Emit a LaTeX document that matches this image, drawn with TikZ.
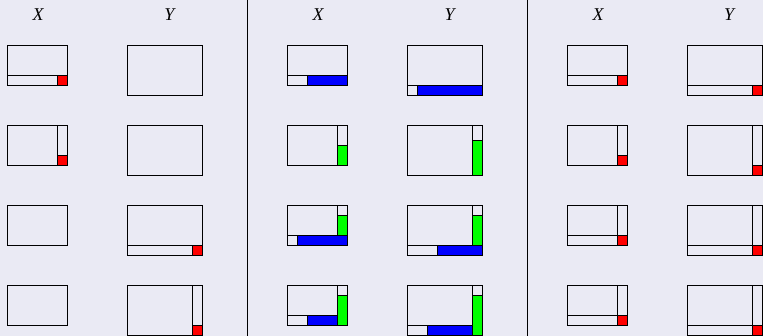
\documentclass[tikz,border=0pt]{standalone}
\usepackage{fontspec}
\newfontfamily\labfont{Liberation Serif}
\definecolor{bg}{RGB}{234,234,244}
\definecolor{pure red}{RGB}{255,0,0}
\definecolor{pure green}{RGB}{0,255,0}
\definecolor{pure blue}{RGB}{0,0,255}
\tikzset{
  frame/.style={draw=black, line width=1pt},
  redfill/.style={frame, fill=pure red},
  greenfill/.style={frame, fill=pure green},
  bluefill/.style={frame, fill=pure blue},
  sep/.style={draw=black, line width=1pt},
  lab/.style={font=\labfont\itshape\fontsize{18}{20}\selectfont, inner sep=0pt, anchor=base}
}
\begin{document}
\begin{tikzpicture}[x=1pt,y=-1pt]
\fill[bg] (0,0) rectangle (763,336);
\useasboundingbox (0,0) rectangle (763,336);
% separators
\draw[sep] (247.5,0) -- (247.5,336);
\draw[sep] (527,0) -- (527,336);
% labels
\node[lab] (l1x) at (38,20.5) {X};
\node[lab] (l1y) at (169.5,20.5) {Y};
\node[lab] (l2x) at (318,20.5) {X};
\node[lab] (l2y) at (449.5,20.5) {Y};
\node[lab] (l3x) at (598,20.5) {X};
\node[lab] (l3y) at (729,20.5) {Y};
% ---------- panel 1 ----------
\draw[frame] (7,46) rectangle (67,86);
\draw[frame] (7,76) rectangle (67,86);
\draw[redfill] (57,76) rectangle (67,86);
\draw[frame] (127,46) rectangle (202,96);
\draw[frame] (7,126) rectangle (67,166);
\draw[frame] (57,126) rectangle (67,166);
\draw[redfill] (57,156) rectangle (67,166);
\draw[frame] (127,126) rectangle (202,176);
\draw[frame] (7,206) rectangle (67,246);
\draw[frame] (127,206) rectangle (202,256);
\draw[frame] (127,246) rectangle (202,256);
\draw[redfill] (192,246) rectangle (202,256);
\draw[frame] (7,286) rectangle (67,326);
\draw[frame] (127,286) rectangle (202,335.5);
\draw[frame] (192,286) rectangle (202,335.5);
\draw[redfill] (192,326) rectangle (202,335.5);
% ---------- panel 2 ----------
\draw[frame] (287,46) rectangle (347,86);
\draw[frame] (287,76) rectangle (347,86);
\draw[bluefill] (307,76) rectangle (347,86);
\draw[frame] (407,46) rectangle (482,96);
\draw[frame] (407,86) rectangle (482,96);
\draw[bluefill] (417,86) rectangle (482,96);
\draw[frame] (287,126) rectangle (347,166);
\draw[frame] (337,126) rectangle (347,166);
\draw[greenfill] (337,146) rectangle (347,166);
\draw[frame] (407,126) rectangle (482,176);
\draw[frame] (472,126) rectangle (482,176);
\draw[greenfill] (472,141) rectangle (482,176);
\draw[frame] (287,206) rectangle (347,246);
\draw[frame] (337,206) rectangle (347,236);
\draw[greenfill] (337,216) rectangle (347,236);
\draw[frame] (287,236) rectangle (347,246);
\draw[bluefill] (297,236) rectangle (347,246);
\draw[frame] (407,206) rectangle (482,256);
\draw[frame] (472,206) rectangle (482,246);
\draw[greenfill] (472,216) rectangle (482,246);
\draw[frame] (407,246) rectangle (482,256);
\draw[bluefill] (437,246) rectangle (482,256);
\draw[frame] (287,286) rectangle (347,326);
\draw[frame] (337,286) rectangle (347,326);
\draw[greenfill] (337,296) rectangle (347,326);
\draw[frame] (287,316) rectangle (337,326);
\draw[bluefill] (307,316) rectangle (337,326);
\draw[frame] (407,286) rectangle (482,335.5);
\draw[frame] (472,286) rectangle (482,335.5);
\draw[greenfill] (472,296) rectangle (482,335.5);
\draw[frame] (407,326) rectangle (472,335.5);
\draw[bluefill] (427,326) rectangle (472,335.5);
% ---------- panel 3 ----------
\draw[frame] (567,46) rectangle (627,86);
\draw[frame] (567,76) rectangle (627,86);
\draw[redfill] (617,76) rectangle (627,86);
\draw[frame] (687,46) rectangle (762.5,96);
\draw[frame] (687,86) rectangle (762.5,96);
\draw[redfill] (752,86) rectangle (762.5,96);
\draw[frame] (567,126) rectangle (627,166);
\draw[frame] (617,126) rectangle (627,166);
\draw[redfill] (617,156) rectangle (627,166);
\draw[frame] (687,126) rectangle (762.5,176);
\draw[frame] (752,126) rectangle (762.5,176);
\draw[redfill] (752,166) rectangle (762.5,176);
\draw[frame] (567,206) rectangle (627,246);
\draw[frame] (617,206) rectangle (627,246);
\draw[frame] (567,236) rectangle (627,246);
\draw[redfill] (617,236) rectangle (627,246);
\draw[frame] (687,206) rectangle (762.5,256);
\draw[frame] (752,206) rectangle (762.5,256);
\draw[frame] (687,246) rectangle (762.5,256);
\draw[redfill] (752,246) rectangle (762.5,256);
\draw[frame] (567,286) rectangle (627,326);
\draw[frame] (617,286) rectangle (627,326);
\draw[frame] (567,316) rectangle (627,326);
\draw[redfill] (617,316) rectangle (627,326);
\draw[frame] (687,286) rectangle (762.5,335.5);
\draw[frame] (752,286) rectangle (762.5,335.5);
\draw[frame] (687,326) rectangle (762.5,335.5);
\draw[redfill] (752,326) rectangle (762.5,335.5);
\end{tikzpicture}
\end{document}
